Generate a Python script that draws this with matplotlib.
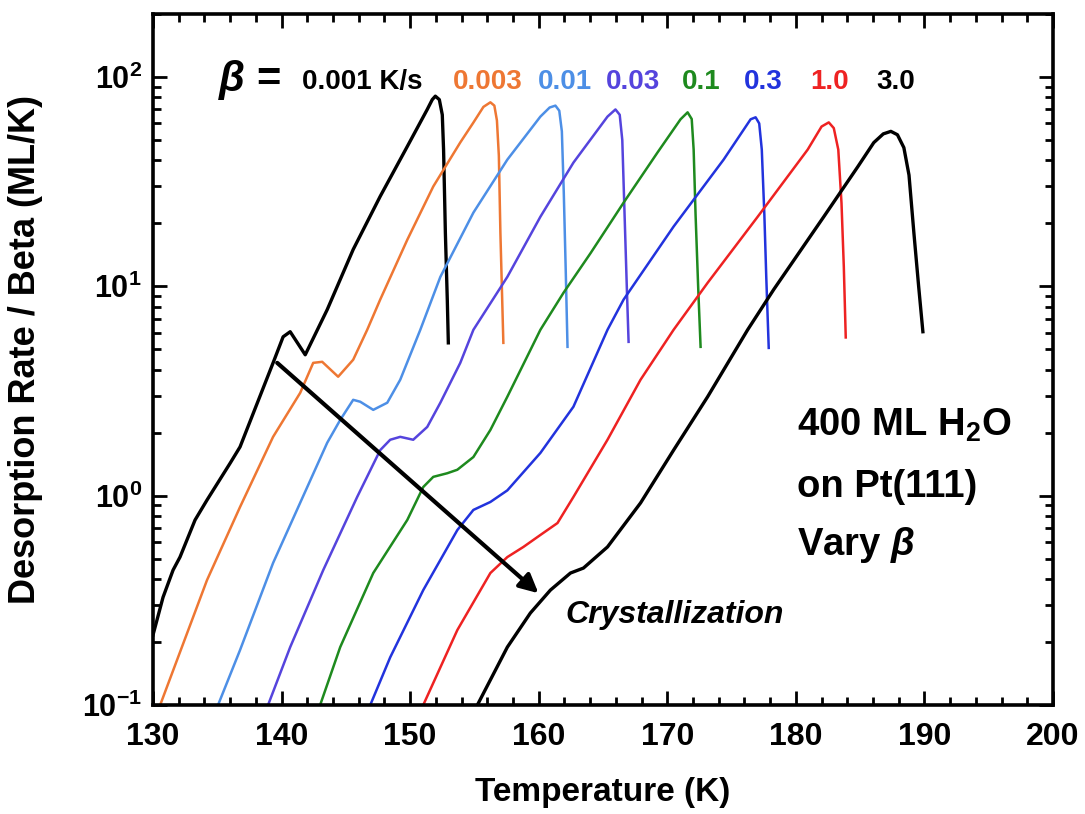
import matplotlib
matplotlib.use("Agg")
import matplotlib.pyplot as plt
from matplotlib.ticker import FixedLocator, LogLocator, NullFormatter, MultipleLocator

# Desorption rate / heating rate vs. temperature, 400 ML H2O on Pt(111)
rates = ["0.001 K/s", "0.003", "0.01", "0.03", "0.1", "0.3", "1.0", "3.0"]
colors = ["black", "#ee7733", "#4d8fe6", "#5544dd", "#1e8a1e", "#2233dd", "#ee2222", "black"]

T_0001 = [130.0, 130.78, 131.56, 132.1, 133.27, 134.2, 136.0, 136.77, 139.34, 140.12, 140.67,
          141.84, 143.55, 145.57, 147.67, 149.78, 151.33, 151.72, 151.96, 152.27, 152.5, 152.6,
          152.74, 152.89, 152.97]
R_0001 = [0.216, 0.327, 0.441, 0.509, 0.765, 0.953, 1.43, 1.71, 4.31, 5.74, 6.07,
          4.71, 7.74, 15.0, 26.9, 46.6, 70, 78, 81, 78, 66, 45,
          18, 8.6, 5.37]

T_0003 = [130.55, 134.2, 136.77, 139.34, 141.45, 142.46, 143.16, 144.4, 145.57, 146.66, 147.67,
          149.78, 151.8, 153.9, 154.92, 155.7, 156.24, 156.55, 156.75, 156.9, 157.02, 157.25]
R_0003 = [0.0997, 0.395, 0.883, 1.91, 3.1, 4.31, 4.36, 3.7, 4.46, 6.2, 8.64,
          16.7, 30, 48.7, 60.6, 72, 75.7, 73, 62, 42, 18, 5.37]

T_001 = [135.06, 136.77, 139.34, 142.0, 143.55, 144.56, 145.57, 146.12, 147.13, 148.22, 149.23,
         150.79, 152.35, 154.92, 157.56, 160.13, 160.85, 161.3, 161.6, 161.8, 161.95, 162.1, 162.24]
R_001 = [0.1, 0.183, 0.477, 1.1, 1.79, 2.3, 2.87, 2.81, 2.57, 2.78, 3.58,
         6.2, 11.1, 22.5, 40.3, 64.7, 71.5, 73, 69, 55, 28, 12, 5.14]

T_003 = [138.95, 140.67, 143.24, 145.88, 147.67, 148.45, 149.23, 150.24, 151.33, 152.35, 153.9,
         154.92, 157.56, 160.13, 162.7, 165.35, 165.97, 166.3, 166.5, 166.65, 166.85, 166.99]
R_003 = [0.1, 0.189, 0.441, 0.986, 1.65, 1.85, 1.91, 1.85, 2.13, 2.78, 4.31,
         6.2, 11.1, 21.5, 39, 64.7, 70, 66, 50, 25, 10, 5.43]

T_01 = [143.0, 144.56, 147.13, 149.78, 151.02, 151.8, 152.89, 153.67, 154.92, 156.24, 157.56,
        160.13, 161.92, 164.03, 166.6, 169.24, 171.03, 171.58, 171.9, 172.05, 172.2, 172.4, 172.59]
R_01 = [0.1, 0.189, 0.427, 0.766, 1.1, 1.23, 1.28, 1.33, 1.53, 2.06, 2.97,
        6.2, 9.3, 14.4, 25.1, 43.6, 62.8, 67.8, 63, 45, 22, 10, 5.14]

T_03 = [146.9, 148.45, 151.02, 153.67, 154.92, 156.24, 157.56, 160.13, 162.7, 165.35, 166.6,
        170.49, 174.38, 176.48, 176.87, 177.15, 177.35, 177.55, 177.7, 177.89]
R_03 = [0.1, 0.169, 0.354, 0.685, 0.855, 0.933, 1.06, 1.6, 2.66, 6.2, 8.64,
        19.3, 40.3, 62.8, 64.2, 60, 45, 22, 11, 5.08]

T_1 = [151.02, 153.67, 156.24, 157.56, 158.81, 160.13, 161.46, 162.7, 165.35, 167.92, 170.49,
       173.14, 177.03, 180.92, 182.0, 182.56, 182.95, 183.3, 183.55, 183.73, 183.88]
R_1 = [0.1, 0.228, 0.427, 0.509, 0.569, 0.649, 0.74, 0.986, 1.85, 3.58, 6.2,
       10.4, 21.5, 45, 58, 60.7, 57, 45, 25, 12.4, 5.7]

T_3 = [155.23, 157.56, 159.35, 160.91, 162.47, 163.48, 165.35, 167.92, 170.49, 173.14, 176.25,
       178.28, 182.17, 184.82, 186.06, 186.8, 187.39, 187.9, 188.4, 188.8, 189.18, 189.55, 189.88]
R_3 = [0.1, 0.189, 0.275, 0.354, 0.427, 0.451, 0.569, 0.923, 1.65, 2.97, 6.2,
       9.66, 21.5, 37.3, 48.6, 53.5, 55, 53, 46, 34, 18, 10, 6.07]

temps = [T_0001, T_0003, T_001, T_003, T_01, T_03, T_1, T_3]
desorb = [R_0001, R_0003, R_001, R_003, R_01, R_03, R_1, R_3]
label_x = [302, 453, 538, 606, 682, 744, 810, 876]  # left edge of each rate label, px

# arrow marking the crystallization shoulder
arrow_start = (139.66, 4.31)
arrow_end = (159.98, 0.342)

x_ticks = [130, 140, 150, 160, 170, 180, 190, 200]
y_ticks = [0.1, 1, 10, 100]
y_ticklabels = [r"$\mathbf{10^{-1}}$", r"$\mathbf{10^{0}}$", r"$\mathbf{10^{1}}$", r"$\mathbf{10^{2}}$"]

plt.rcParams["font.family"] = ["Liberation Sans", "DejaVu Sans"]
plt.rcParams["font.weight"] = "bold"
plt.rcParams["mathtext.fontset"] = "custom"
plt.rcParams["mathtext.rm"] = "Liberation Sans:bold"
plt.rcParams["mathtext.bf"] = "Liberation Sans:bold"
plt.rcParams["mathtext.it"] = "Liberation Sans:italic:bold"

W, H = 1085, 814
fig = plt.figure(figsize=(W / 100, H / 100), dpi=100)
ax = fig.add_axes([153 / W, 1 - 705 / H, 900 / W, 691 / H])

for T, R, c in zip(temps, desorb, colors):
    lw = 2.4 if c == "black" else 1.8
    ax.plot(T, R, color=c, lw=lw, solid_joinstyle="round")

ax.set_yscale("log")
ax.set_xlim(130, 200)
ax.set_ylim(0.1, 200)

ax.xaxis.set_major_locator(FixedLocator(x_ticks))
ax.xaxis.set_minor_locator(MultipleLocator(2))
ax.set_xticklabels([str(t) for t in x_ticks], fontsize=23, fontweight="bold")
ax.yaxis.set_major_locator(FixedLocator(y_ticks))
ax.yaxis.set_minor_locator(LogLocator(base=10, subs=range(2, 10)))
ax.yaxis.set_minor_formatter(NullFormatter())
ax.set_yticklabels(y_ticklabels, fontsize=22)

ax.tick_params(which="both", direction="in", top=True, right=True, width=2)
ax.tick_params(which="major", length=10)
ax.tick_params(which="minor", length=6)
ax.tick_params(axis="x", pad=12)
ax.tick_params(axis="y", pad=8)
for s in ax.spines.values():
    s.set_linewidth(2.6)

ax.set_xlabel("Temperature (K)", fontsize=24, fontweight="bold", labelpad=18)
ax.set_ylabel("Desorption Rate / Beta (ML/K)", fontsize=26, fontweight="bold")
ax.yaxis.set_label_coords(-0.122, 0.515)

# rate labels along the top
fig.text(218 / W, 1 - 80 / H, r"$\beta$ =", fontsize=30, fontweight="bold", va="center", ha="left")
for lab, lx, c in zip(rates, label_x, colors):
    fig.text(lx / W, 1 - 82 / H, lab, fontsize=20, fontweight="bold", color=c, va="center", ha="left")

# sample description
fig.text(797 / W, 1 - 425 / H, r"400 ML H$_{\mathbf{2}}$O", fontsize=27.5, fontweight="bold", va="center")
fig.text(797 / W, 1 - 487 / H, "on Pt(111)", fontsize=27.5, fontweight="bold", va="center")
fig.text(797 / W, 1 - 545 / H, r"Vary $\beta$", fontsize=27.5, fontweight="bold", va="center")

ax.annotate("", xy=arrow_end, xytext=arrow_start,
            arrowprops=dict(arrowstyle="-|>", lw=3, color="black", mutation_scale=28,
                            shrinkA=0, shrinkB=0))
fig.text(565 / W, 1 - 615 / H, "Crystallization", fontsize=23, fontweight="bold",
         style="italic", va="center", ha="left")

fig.savefig("out.png", dpi=100)
